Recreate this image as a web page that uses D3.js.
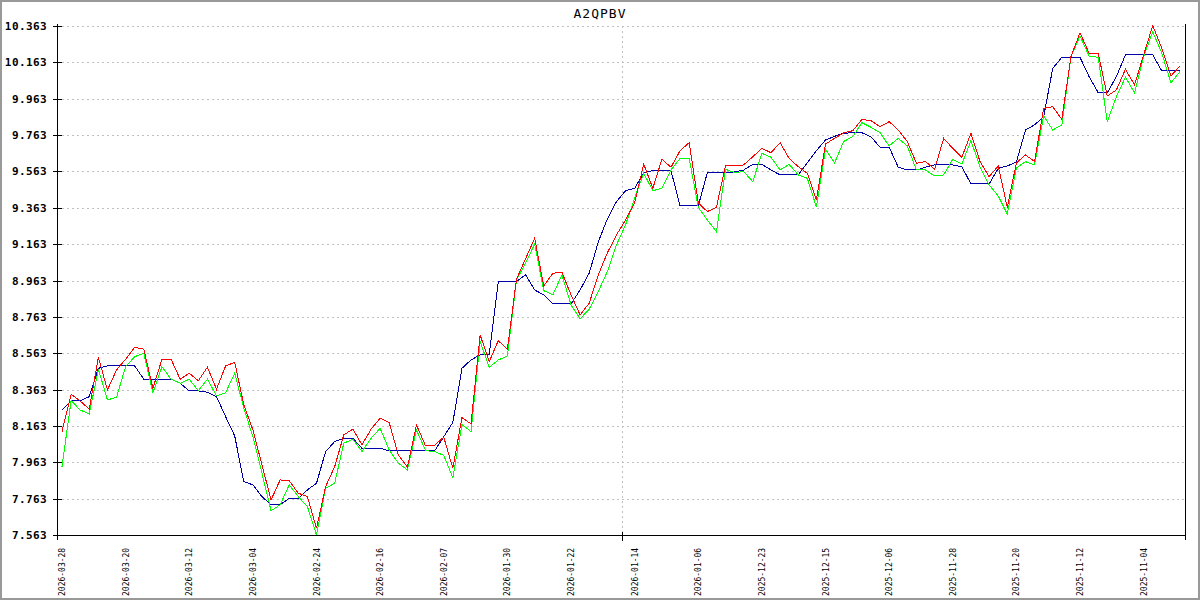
<!DOCTYPE html>
<html>
  <head>
    <meta charset="UTF-8" />
    <title>A2QPBV</title>
    <style>
      body,
      html {
        margin: 0;
        padding: 0;
        overflow: hidden;
        background: #fff;
      }

      .grid {
        stroke: #c0c0c0;
        stroke-width: 1px;
        stroke-dasharray: 2, 3;
        shape-rendering: crispEdges;
      }

      .axis-line {
        stroke: #000;
        stroke-width: 1px;
        shape-rendering: crispEdges;
      }

      .ylabel {
        font-family: "DejaVu Sans Mono", monospace;
        font-size: 11px;
        font-weight: bold;
        letter-spacing: 0.4px;
      }

      .xlabel {
        font-family: "DejaVu Sans Mono", monospace;
        font-size: 8px;
      }

      .series {
        fill: none;
        stroke-width: 1px;
        shape-rendering: crispEdges;
      }
    </style>
  </head>
  <body>
    <svg id="chart"></svg>
    <script src="https://d3js.org/d3.v7.min.js"></script>
    <script>
      const title = "A2QPBV";

      // one label every 7 points, newest first
      const dateLabels = [
        "2026-03-28", "2026-03-20", "2026-03-12", "2026-03-04", "2026-02-24",
        "2026-02-16", "2026-02-07", "2026-01-30", "2026-01-22", "2026-01-14",
        "2026-01-06", "2025-12-23", "2025-12-15", "2025-12-06", "2025-11-28",
        "2025-11-20", "2025-11-12", "2025-11-04",
      ];
      const labelStep = 7;

      const yTicks = [
        7.563, 7.763, 7.963, 8.163, 8.363, 8.563, 8.763, 8.963, 9.163, 9.363,
        9.563, 9.763, 9.963, 10.163, 10.363,
      ];

      const redSeries = [
        8.132, 8.337, 8.300, 8.255, 8.541, 8.361, 8.471, 8.530, 8.596, 8.585,
        8.370, 8.530, 8.530, 8.420, 8.453, 8.412, 8.486, 8.365, 8.493, 8.513,
        8.279, 8.141, 7.949, 7.756, 7.866, 7.861, 7.793, 7.774, 7.600, 7.829,
        7.939, 8.114, 8.145, 8.059, 8.145, 8.205, 8.181, 8.004, 7.936, 8.169,
        8.053, 8.057, 8.101, 7.930, 8.209, 8.174, 8.664, 8.517, 8.632, 8.585,
        8.970, 9.082, 9.195, 8.933, 9.003, 9.008, 8.884, 8.774, 8.838, 8.994,
        9.115, 9.214, 9.296, 9.390, 9.604, 9.470, 9.630, 9.586, 9.677, 9.721,
        9.391, 9.342, 9.366, 9.595, 9.593, 9.599, 9.644, 9.690, 9.666, 9.721,
        9.635, 9.589, 9.553, 9.406, 9.714, 9.745, 9.775, 9.787, 9.849, 9.842,
        9.809, 9.837, 9.791, 9.727, 9.608, 9.617, 9.575, 9.745, 9.690, 9.641,
        9.773, 9.617, 9.534, 9.593, 9.365, 9.610, 9.654, 9.617, 9.910, 9.919,
        9.850, 10.194, 10.326, 10.213, 10.213, 9.978, 10.011, 10.125, 10.039, 10.204,
        10.365, 10.240, 10.088, 10.143,
      ];

      const greenSeries = [
        7.939, 8.302, 8.251, 8.229, 8.475, 8.306, 8.321, 8.489, 8.544, 8.563,
        8.346, 8.489, 8.420, 8.398, 8.420, 8.357, 8.420, 8.328, 8.346, 8.453,
        8.262, 8.104, 7.903, 7.696, 7.729, 7.839, 7.774, 7.719, 7.563, 7.820,
        7.848, 8.068, 8.090, 8.022, 8.095, 8.150, 8.031, 7.958, 7.921, 8.141,
        8.027, 8.022, 8.001, 7.878, 8.171, 8.132, 8.627, 8.486, 8.526, 8.548,
        8.966, 9.058, 9.164, 8.907, 8.884, 8.994, 8.829, 8.752, 8.805, 8.902,
        9.012, 9.159, 9.269, 9.417, 9.553, 9.457, 9.470, 9.571, 9.635, 9.635,
        9.366, 9.296, 9.232, 9.575, 9.556, 9.562, 9.507, 9.663, 9.641, 9.571,
        9.602, 9.544, 9.525, 9.366, 9.685, 9.610, 9.728, 9.754, 9.831, 9.806,
        9.776, 9.703, 9.745, 9.703, 9.571, 9.571, 9.538, 9.544, 9.630, 9.604,
        9.732, 9.589, 9.489, 9.428, 9.329, 9.582, 9.617, 9.599, 9.868, 9.791,
        9.819, 10.194, 10.308, 10.198, 10.191, 9.837, 9.974, 10.081, 9.996, 10.194,
        10.332, 10.213, 10.051, 10.112,
      ];

      const blueSeries = [
        8.251, 8.302, 8.302, 8.324, 8.480, 8.493, 8.493, 8.493, 8.493, 8.420,
        8.420, 8.420, 8.420, 8.398, 8.356, 8.356, 8.348, 8.324, 8.214, 8.108,
        7.857, 7.839, 7.774, 7.729, 7.729, 7.765, 7.765, 7.811, 7.848, 8.022,
        8.077, 8.095, 8.095, 8.040, 8.040, 8.040, 8.026, 8.026, 8.026, 8.026,
        8.026, 8.026, 8.104, 8.182, 8.480, 8.526, 8.554, 8.554, 8.957, 8.957,
        8.957, 8.994, 8.911, 8.884, 8.834, 8.834, 8.834, 8.911, 9.003, 9.175,
        9.302, 9.397, 9.457, 9.470, 9.556, 9.567, 9.567, 9.567, 9.373, 9.373,
        9.373, 9.556, 9.556, 9.556, 9.560, 9.571, 9.602, 9.602, 9.571, 9.544,
        9.544, 9.544, 9.611, 9.677, 9.736, 9.756, 9.773, 9.776, 9.776, 9.754,
        9.696, 9.696, 9.586, 9.571, 9.571, 9.586, 9.599, 9.599, 9.599, 9.589,
        9.494, 9.494, 9.494, 9.580, 9.593, 9.615, 9.791, 9.819, 9.864, 10.130,
        10.191, 10.191, 10.191, 10.084, 9.996, 9.996, 10.084, 10.204, 10.204, 10.204,
        10.204, 10.116, 10.116, 10.116,
      ];

      const width = 1200;
      const height = 600;
      const plot = { left: 57.5, right: 1185.5, top: 26, bottom: 535.5 };

      const svg = d3.select("#chart").attr("width", width).attr("height", height);

      // outer frame
      svg
        .append("rect")
        .attr("x", 1)
        .attr("y", 1)
        .attr("width", width - 2)
        .attr("height", height - 2)
        .attr("fill", "#fff")
        .attr("stroke", "#999")
        .attr("stroke-width", 2);

      const n = redSeries.length;
      const x = d3.scaleLinear().domain([0, n - 1]).range([62, 1180]);
      const y = d3
        .scaleLinear()
        .domain([yTicks[0], yTicks[yTicks.length - 1]])
        .range([535, 26]);

      // horizontal grid
      svg
        .selectAll(".hgrid")
        .data(yTicks.slice(1))
        .enter()
        .append("line")
        .attr("class", "grid")
        .attr("x1", plot.left + 4)
        .attr("x2", plot.right)
        .attr("y1", (d) => Math.round(y(d)) + 0.5)
        .attr("y2", (d) => Math.round(y(d)) + 0.5);

      // centre vertical grid line
      const midX = Math.round((plot.left + plot.right) / 2) + 0.5;
      svg
        .append("line")
        .attr("class", "grid")
        .attr("x1", midX)
        .attr("x2", midX)
        .attr("y1", plot.top)
        .attr("y2", plot.bottom);

      const line = (data) =>
        d3
          .line()
          .x((d, i) => x(i))
          .y((d) => y(d))(data);

      svg.append("path").attr("class", "series").attr("stroke", "#0000aa").attr("d", line(blueSeries));
      svg.append("path").attr("class", "series").attr("stroke", "#00ff00").attr("d", line(greenSeries));
      svg.append("path").attr("class", "series").attr("stroke", "#ff0000").attr("d", line(redSeries));

      // axes
      svg
        .append("line")
        .attr("class", "axis-line")
        .attr("x1", plot.left)
        .attr("x2", plot.left)
        .attr("y1", plot.top - 2)
        .attr("y2", 540);
      svg
        .append("line")
        .attr("class", "axis-line")
        .attr("x1", plot.right)
        .attr("x2", plot.right)
        .attr("y1", plot.top - 2)
        .attr("y2", 540);
      svg
        .append("line")
        .attr("class", "axis-line")
        .attr("x1", plot.left)
        .attr("x2", plot.right)
        .attr("y1", plot.bottom)
        .attr("y2", plot.bottom);
      svg
        .append("line")
        .attr("class", "axis-line")
        .attr("x1", midX)
        .attr("x2", midX)
        .attr("y1", plot.bottom - 4)
        .attr("y2", plot.bottom + 5);

      // y ticks and labels
      const yAxis = svg.selectAll(".ytick").data(yTicks).enter().append("g");
      yAxis
        .append("line")
        .attr("class", "axis-line")
        .attr("x1", plot.left - 5)
        .attr("x2", plot.left + 4)
        .attr("y1", (d) => Math.round(y(d)) + 0.5)
        .attr("y2", (d) => Math.round(y(d)) + 0.5);
      yAxis
        .append("text")
        .attr("class", "ylabel")
        .attr("x", 47)
        .attr("y", (d) => Math.round(y(d)) + 4)
        .attr("text-anchor", "end")
        .text((d) => d3.format(".3f")(d));

      // x labels, rotated, reading bottom to top
      svg
        .selectAll(".xlabel")
        .data(dateLabels)
        .enter()
        .append("text")
        .attr("class", "xlabel")
        .attr("text-anchor", "start")
        .attr("transform", (d, i) => `translate(${x(i * labelStep) + 3},596) rotate(-90)`)
        .text((d) => d);

      // title
      svg
        .append("text")
        .attr("x", width / 2)
        .attr("y", 18)
        .attr("text-anchor", "middle")
        .style("font-family", '"DejaVu Sans Mono", monospace')
        .style("font-size", "13px")
        .style("letter-spacing", "1px")
        .text(title);
    </script>
  </body>
</html>
